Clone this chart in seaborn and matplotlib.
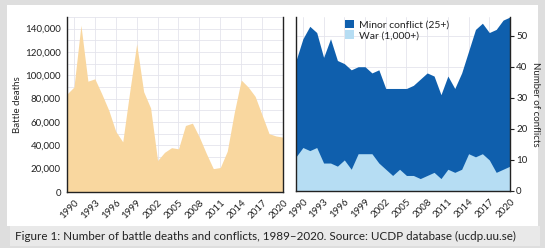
import numpy as np
import pandas as pd
import matplotlib
matplotlib.use("Agg")
import matplotlib.pyplot as plt
from matplotlib.patches import Rectangle, Patch
from matplotlib.ticker import FuncFormatter, MultipleLocator
import seaborn as sns

# Data (UCDP, 1989-2020)
years = list(range(1989, 2021))
battle_deaths = [84000, 90000, 143000, 95000, 97000, 84000, 70000, 52000,
                 43000, 86000, 127000, 86000, 72000, 27000, 34000, 38000,
                 37000, 57000, 59000, 47000, 33000, 20000, 21000, 35000,
                 68000, 96000, 90000, 82000, 66000, 50000, 48000, 47000]
total_conflicts = [42, 49, 53, 51, 43, 49, 42, 41, 39, 40, 40, 38, 39, 33, 33, 33,
                   33, 34, 36, 38, 37, 31, 37, 33, 38, 45, 52, 54, 51, 52, 55, 56]
wars = [11, 14, 13, 14, 9, 9, 8, 10, 7, 12, 12, 12, 9, 7, 5, 7,
        5, 5, 4, 5, 6, 4, 7, 6, 7, 12, 11, 12, 10, 6, 7, 8]
xtick_years = list(range(1990, 2021, 3))
legend_labels = ["Minor conflict (25+)", "War (1,000+)"]
caption = ("Figure 1: Number of battle deaths and conflicts, 1989\u20132020. "
           "Source: UCDP database (ucdp.uu.se)")

PEACH = "#f9d79f"
DARK_BLUE = "#0f5fad"
LIGHT_BLUE = "#b6ddf3"

df = pd.DataFrame({"year": years, "deaths": battle_deaths,
                   "total": total_conflicts, "war": wars})

sns.set_style("white")
plt.rcParams["font.family"] = ["Lato", "DejaVu Sans"]
plt.rcParams["font.size"] = 7

fig = plt.figure(figsize=(5.45, 2.48), dpi=100)
fig.patch.set_facecolor("#dedede")
W, H = 545, 248
# white page and caption strip, kept behind the axes
fig.patches.append(Rectangle((7 / W, 1 - 226 / H), 531 / W, 221 / H,
                             transform=fig.transFigure, facecolor="white",
                             edgecolor="none", zorder=-10))
fig.patches.append(Rectangle((10 / W, 1 - 246 / H), 530 / W, 20 / H,
                             transform=fig.transFigure, facecolor="#e9e9e9",
                             edgecolor="none", zorder=-10))

ax1 = fig.add_axes([67 / W, 1 - 192 / H, 216 / W, 175 / H])
ax2 = fig.add_axes([296 / W, 1 - 191 / H, 214 / W, 174 / H])

for ax in (ax1, ax2):
    ax.set_facecolor("white")
    ax.grid(True, which="both", color="#e4e4ec", linewidth=0.6)
    ax.set_axisbelow(True)
    ax.set_xlim(1989, 2020)
    ax.set_xticks(xtick_years)
    ax.set_xticklabels([str(y) for y in xtick_years], rotation=45,
                       ha="right", rotation_mode="anchor")
    ax.spines["top"].set_visible(False)
    for s in ("left", "right", "bottom"):
        ax.spines[s].set_color("#222222")
        ax.spines[s].set_linewidth(1.0)
    ax.tick_params(axis="both", which="both", direction="out", length=3,
                   width=0.8, color="#222222", pad=1.5, labelsize=7,
                   labelcolor="#222222")

# left: battle deaths
sns.lineplot(data=df, x="year", y="deaths", ax=ax1, color=PEACH, linewidth=0)
ax1.fill_between(df["year"], 0, df["deaths"], color=PEACH, linewidth=0)
ax1.set_ylim(0, 150000)
ax1.yaxis.set_major_locator(MultipleLocator(20000))
ax1.yaxis.set_minor_locator(MultipleLocator(10000))
ax1.yaxis.set_major_formatter(FuncFormatter(lambda v, p: f"{int(v):,}"))
ax1.set_xlabel("")
ax1.set_ylabel("Battle deaths", fontsize=7, labelpad=2)

# right: conflicts (stacked)
sns.lineplot(data=df, x="year", y="total", ax=ax2, color=DARK_BLUE, linewidth=0)
ax2.fill_between(df["year"], 0, df["total"], color=DARK_BLUE, linewidth=0)
ax2.fill_between(df["year"], 0, df["war"], color=LIGHT_BLUE, linewidth=0)
ax2.set_ylim(0, 56)
ax2.yaxis.set_major_locator(MultipleLocator(10))
ax2.yaxis.tick_right()
ax2.yaxis.set_label_position("right")
ax2.set_xlabel("")
ax2.set_ylabel("Number of conflicts", fontsize=7, rotation=270, labelpad=9)

handles = [Patch(facecolor=DARK_BLUE, edgecolor="none"),
           Patch(facecolor=LIGHT_BLUE, edgecolor="none")]
ax2.legend(handles, legend_labels, loc="upper left", bbox_to_anchor=(0.2, 1.02),
           frameon=False, fontsize=7.5, handlelength=0.9, handleheight=0.9,
           handletextpad=0.4, labelspacing=0.05, borderpad=0.1,
           labelcolor="#222222")

fig.text(15 / W, 1 - 236.5 / H, caption, fontsize=8.4, va="center",
         ha="left", color="#222222")

fig.savefig("out.png", dpi=100, facecolor=fig.get_facecolor())
